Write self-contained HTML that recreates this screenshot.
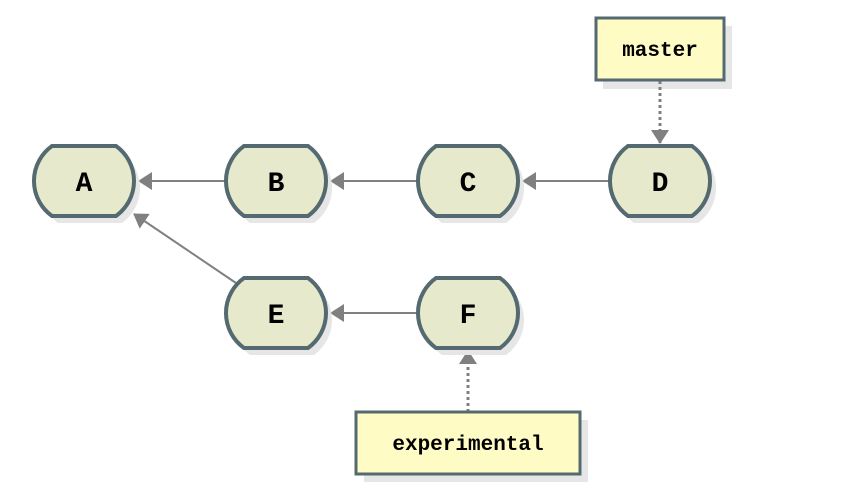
<!DOCTYPE html>
<html><head><style>body{margin:0;background:#fff}</style></head><body>
<svg width="856" height="498" viewBox="0 0 856 498" xmlns="http://www.w3.org/2000/svg">
<defs>
<marker id="ah2" markerWidth="14" markerHeight="18" refX="13" refY="9" orient="auto" markerUnits="userSpaceOnUse" viewBox="0 0 14 18"><path d="M0,0 L14,9 L0,18 z" fill="#808080"/></marker>
<g id="sh"><path d="M-26,-28 L38,-28 A43,43 0 0 1 38,42 L-26,42 A43,43 0 0 1 -26,-28 Z" fill="#e6e6e6"/></g>
<g id="nd"><path d="M-32,-35 L32,-35 A43,43 0 0 1 32,35 L-32,35 A43,43 0 0 1 -32,-35 Z" fill="#e6e9cb" stroke="#546a70" stroke-width="4"/></g>
</defs>
<rect x="603" y="26" width="129" height="63" fill="#e6e6e6"/>
<rect x="364" y="420" width="224" height="62" fill="#e6e6e6"/>
<g stroke="#808080" stroke-width="2" fill="none">
<line x1="226" y1="181" x2="139" y2="181" marker-end="url(#ah2)"/>
<line x1="418" y1="181" x2="331" y2="181" marker-end="url(#ah2)"/>
<line x1="610" y1="181" x2="523" y2="181" marker-end="url(#ah2)"/>
<line x1="418" y1="313" x2="331" y2="313" marker-end="url(#ah2)"/>
<line x1="236" y1="283" x2="134" y2="214" marker-end="url(#ah2)"/>
<line x1="660" y1="81" x2="660" y2="143" stroke-width="3" stroke-dasharray="3,3" marker-end="url(#ah2)"/>
<line x1="468" y1="412" x2="468" y2="351" stroke-width="3" stroke-dasharray="3,3" marker-end="url(#ah2)"/>
</g>
<use href="#sh" x="84" y="181"/><use href="#sh" x="276" y="181"/><use href="#sh" x="468" y="181"/><use href="#sh" x="660" y="181"/><use href="#sh" x="276" y="313"/><use href="#sh" x="468" y="313"/>
<use href="#nd" x="84" y="181"/><use href="#nd" x="276" y="181"/><use href="#nd" x="468" y="181"/><use href="#nd" x="660" y="181"/><use href="#nd" x="276" y="313"/><use href="#nd" x="468" y="313"/>
<g font-family="Liberation Mono, monospace" font-weight="bold" font-size="28" text-anchor="middle">
<text x="84" y="191">A</text><text x="276" y="191">B</text><text x="468" y="191">C</text><text x="660" y="191">D</text><text x="276" y="323">E</text><text x="468" y="323">F</text>
</g>
<rect x="596" y="18" width="128" height="62" fill="#fffbc4" stroke="#546a70" stroke-width="3"/>
<text x="660" y="56" font-family="Liberation Mono, monospace" font-weight="bold" font-size="21" text-anchor="middle">master</text>
<rect x="356" y="412" width="224" height="62" fill="#fffbc4" stroke="#546a70" stroke-width="3"/>
<text x="468" y="450" font-family="Liberation Mono, monospace" font-weight="bold" font-size="21" text-anchor="middle">experimental</text>
</svg>
</body></html>
